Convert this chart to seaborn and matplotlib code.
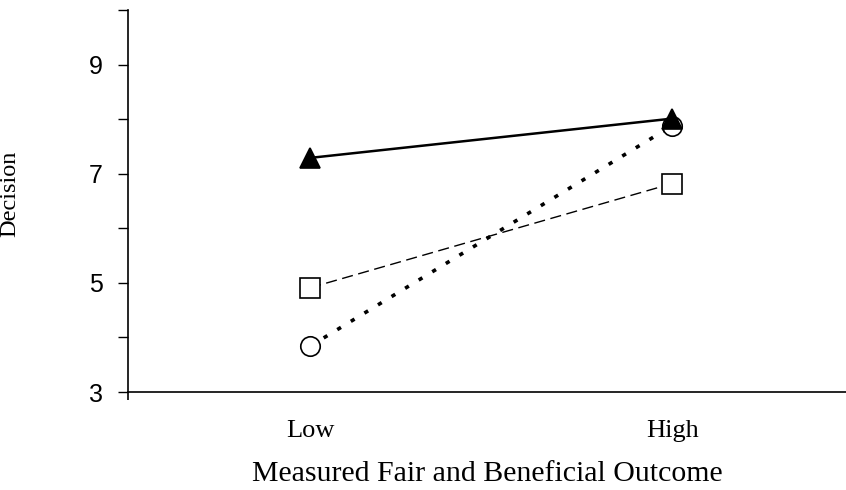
import matplotlib
matplotlib.use("Agg")
import matplotlib.pyplot as plt
import seaborn as sns
import pandas as pd

# values
levels = ["Low", "High"]
level_pos = [0, 1]
series_names = ["Circle", "Square", "Triangle"]
circle_vals = [3.84, 7.88]
square_vals = [4.91, 6.82]
triangle_vals = [7.29, 8.01]
y_ticks = [3, 5, 7, 9]

rows = []
for name, vals in zip(series_names, [circle_vals, square_vals, triangle_vals]):
    for x, v in zip(level_pos, vals):
        rows.append({"Outcome": x, "Decision": v, "Group": name})
df = pd.DataFrame(rows)

sns.set_theme(style="white")
plt.rcParams["font.family"] = ["Liberation Sans", "DejaVu Sans"]
plt.rcParams["text.color"] = "black"
plt.rcParams["axes.labelcolor"] = "black"
plt.rcParams["xtick.color"] = "black"
plt.rcParams["ytick.color"] = "black"

serif = ["Liberation Serif", "DejaVu Serif"]

fig = plt.figure(figsize=(8.46, 4.9), dpi=100)
ax = fig.add_axes([0.1513, 0.2, 0.8487, 0.7796])

styles = {
    "Circle": dict(marker="o", linestyle=(0, (1.2, 3.2)), linewidth=2.6,
                   markersize=14, markerfacecolor="white"),
    "Square": dict(marker="s", linestyle=(0, (8, 4)), linewidth=1.0,
                   markersize=15, markerfacecolor="white"),
    "Triangle": dict(marker="^", linestyle="-", linewidth=1.8,
                     markersize=15, markerfacecolor="black"),
}

for i, name in enumerate(series_names):
    sub = df[df["Group"] == name]
    st = styles[name]
    sns.lineplot(data=sub, x="Outcome", y="Decision", ax=ax, color="black",
                 marker=st["marker"], markersize=st["markersize"],
                 markerfacecolor=st["markerfacecolor"], markeredgecolor="black",
                 markeredgewidth=1.2, linewidth=st["linewidth"],
                 linestyle=st["linestyle"], zorder=3 + i, legend=False)

x_left = -0.503
ax.set_xlim(x_left, 1.48)
ax.set_ylim(3, 10)
ax.set_yticks(range(3, 11))
ax.set_yticklabels([str(t) if t in y_ticks else "" for t in range(3, 11)], fontsize=18)
ax.set_xticks(level_pos)
ax.set_xticklabels(levels, fontsize=19, family=serif)
ax.set_xticks([x_left], minor=True)
ax.tick_params(axis="x", which="major", length=0, pad=20)
ax.tick_params(axis="x", which="minor", length=6, width=1.2, direction="out", bottom=True)
ax.tick_params(axis="y", length=7, width=1, direction="out", left=True, pad=11)

for side in ["top", "right"]:
    ax.spines[side].set_visible(False)
for side in ["left", "bottom"]:
    ax.spines[side].set_color("black")
    ax.spines[side].set_linewidth(1.2)

ax.set_xlabel("Measured Fair and Beneficial Outcome", fontsize=21.5,
              family=serif, labelpad=14)
ax.set_ylabel("Decision", fontsize=17.5, family=serif)
ax.yaxis.set_label_coords(-0.150, 0.52)

fig.savefig("out.png", dpi=100)
